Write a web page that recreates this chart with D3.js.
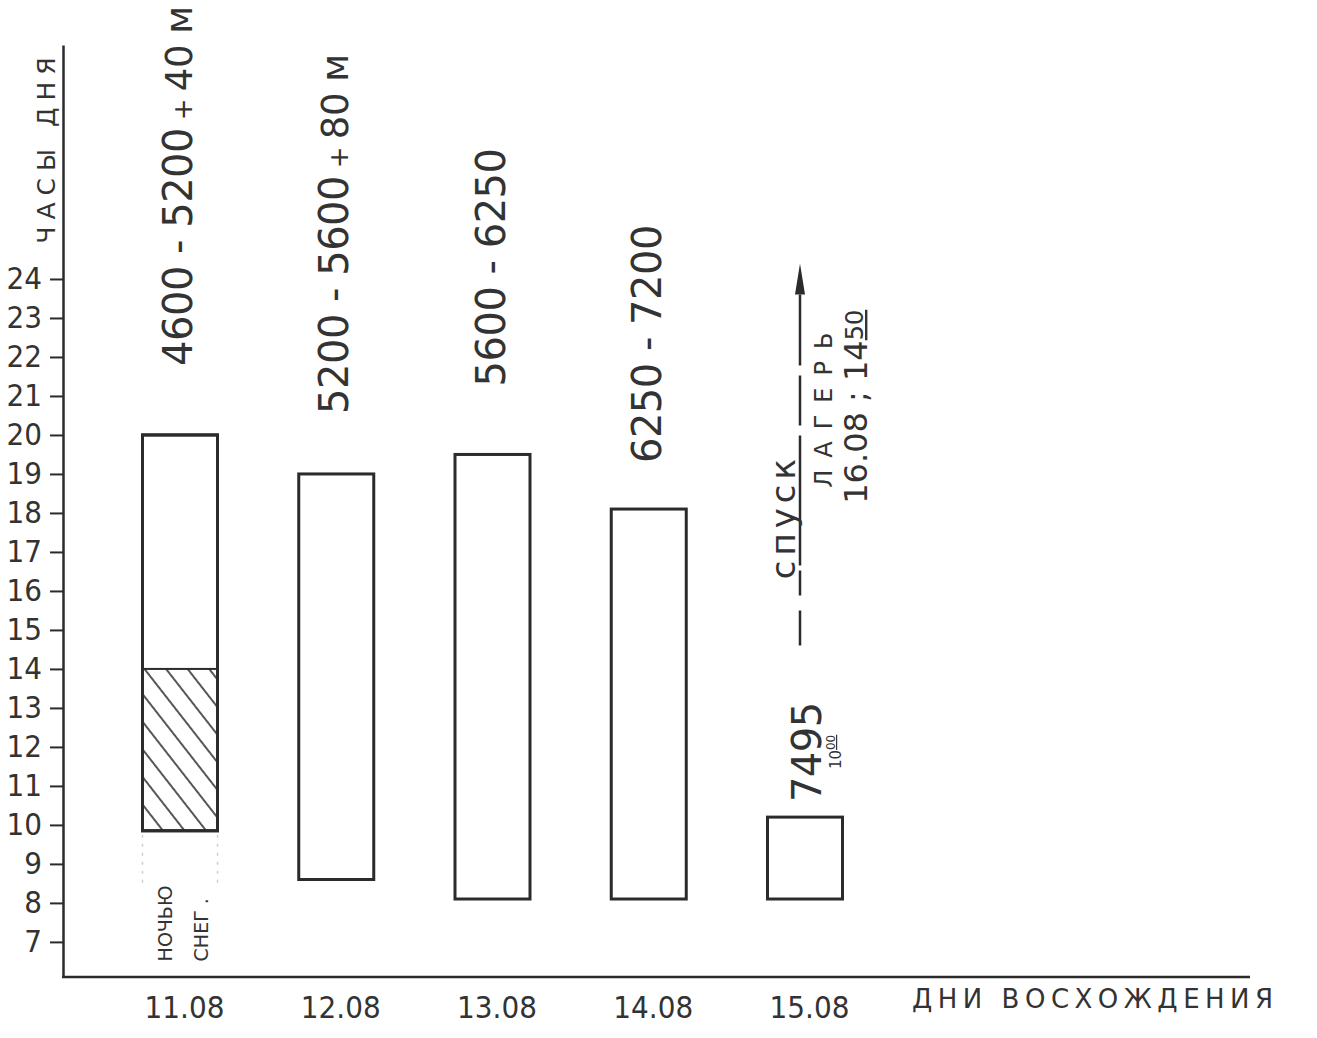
<!DOCTYPE html>
<html>
<head>
<meta charset="utf-8">
<script src="https://cdn.jsdelivr.net/npm/d3@7"></script>
<style>
  body { margin: 0; background: #fff; }
  svg { display: block; }
  text { fill: #333; font-family: 'DejaVu Sans', sans-serif; white-space: pre; }
  .narrow { font-family: 'Liberation Sans Narrow', 'DejaVu Sans Condensed', sans-serif; }
</style>
</head>
<body>
<script>
// data
const days = ['11.08', '12.08', '13.08', '14.08', '15.08']
const startHour = [9.85, 8.6, 8.1, 8.1, 8.1]
const endHour = [20, 19, 19.5, 18.1, 10.2]
const snowHours = [9.85, 14]          // hatched part of the first day
const hourTicks = d3.range(7, 25)
const heights = ['4600 - 5200', '5200 - 5600', '5600 - 6250', '6250 - 7200', '7495']
const extraMetres = ['40 м', '80 м', '', '', '']

const W = 1317, H = 1038
const ink = '#2b2b2b'
const svg = d3.select('body').append('svg').attr('width', W).attr('height', H)
svg.append('rect').attr('width', W).attr('height', H).attr('fill', '#fff')

const y = d3.scaleLinear().domain([6.1, 30]).range([977, 45])
const x = d3.scalePoint().domain(days).range([180, 805])
const barW = 75
const axisX = 63

// hatch pattern for "ночью снег"
const defs = svg.append('defs')
defs.append('pattern')
  .attr('id', 'hatch')
  .attr('patternUnits', 'userSpaceOnUse')
  .attr('width', 17).attr('height', 17)
  .attr('patternTransform', 'rotate(-38)')
  .append('line')
    .attr('x1', 8).attr('x2', 8).attr('y1', 0).attr('y2', 17)
    .attr('stroke', ink).attr('stroke-width', 1.6)

// y axis
const $yAxis = svg.append('g')
  .attr('transform', `translate(${axisX},0)`)
  .call(d3.axisLeft(y).tickValues(hourTicks).tickSize(13).tickPadding(8).tickSizeOuter(0))
$yAxis.select('.domain').attr('stroke', ink).attr('stroke-width', 2.5)
$yAxis.selectAll('.tick line').attr('stroke', ink).attr('stroke-width', 2)
$yAxis.selectAll('.tick text')
  .classed('narrow', true)
  .attr('font-size', 31)
  .attr('fill', '#333')
$yAxis.attr('font-family', null)

svg.append('text')
  .attr('transform', `translate(${axisX - 8},${y(23.7) - 47}) rotate(-90)`)
  .attr('font-size', 25)
  .attr('letter-spacing', 7)
  .text('ЧАСЫ ДНЯ')

// x axis
svg.append('line')
  .attr('x1', axisX - 1).attr('x2', 1250)
  .attr('y1', y.range()[0]).attr('y2', y.range()[0])
  .attr('stroke', ink).attr('stroke-width', 2.5)

const $xAxis = svg.append('g')
  .attr('transform', `translate(4,${y.range()[0]})`)
  .call(d3.axisBottom(x).tickSize(0).tickPadding(19))
$xAxis.select('.domain').remove()
$xAxis.selectAll('.tick text')
  .classed('narrow', true)
  .attr('font-size', 31)
  .attr('fill', '#333')
$xAxis.attr('font-family', null)

svg.append('text')
  .attr('x', 912).attr('y', 1008)
  .attr('font-size', 26)
  .attr('letter-spacing', 5.5)
  .text('ДНИ ВОСХОЖДЕНИЯ')

// bars
const $bars = svg.append('g')
$bars.selectAll('rect')
  .data(days)
  .enter().append('rect')
    .attr('x', d => x(d) - barW / 2)
    .attr('y', (d, i) => y(endHour[i]))
    .attr('width', barW)
    .attr('height', (d, i) => y(startHour[i]) - y(endHour[i]))
    .attr('fill', 'none')
    .attr('stroke', ink)
    .attr('stroke-width', 3)

// snow part of day 1
$bars.append('rect')
  .attr('x', x(days[0]) - barW / 2)
  .attr('y', y(snowHours[1]))
  .attr('width', barW)
  .attr('height', y(snowHours[0]) - y(snowHours[1]))
  .attr('fill', 'url(#hatch)')
  .attr('stroke', ink)
  .attr('stroke-width', 2)
$bars.append('rect')
  .attr('x', x(days[0]) - barW / 2)
  .attr('y', y(endHour[0]))
  .attr('width', barW)
  .attr('height', y(startHour[0]) - y(endHour[0]))
  .attr('fill', 'none')
  .attr('stroke', ink)
  .attr('stroke-width', 3)

// faint pencil lines under day 1
;[-1, 1].forEach(s => {
  svg.append('line')
    .attr('x1', x(days[0]) + s * barW / 2).attr('x2', x(days[0]) + s * barW / 2)
    .attr('y1', y(startHour[0]) + 4).attr('y2', y(8.5))
    .attr('stroke', '#cfcfcf').attr('stroke-width', 1.5)
    .attr('stroke-dasharray', '3,6')
})

const note = svg.append('text')
  .attr('transform', `translate(${x(days[0]) - 8},${y(6.5)}) rotate(-90)`)
  .attr('font-size', 19)
note.append('tspan').attr('x', 0).attr('y', 0).text('НОЧЬЮ')
note.append('tspan').attr('x', 0).attr('y', 0).attr('dy', 36).text('СНЕГ .')

// altitude labels above bars
const labelGap = [69, 60, 68, 46, 15]
const $labels = svg.append('g')
$labels.selectAll('text')
  .data(days)
  .enter().append('text')
    .attr('transform', (d, i) => `translate(${x(d) + (i == 4 ? 16 : 12)},${y(endHour[i]) - labelGap[i]}) rotate(-90)`)
    .attr('font-size', 40)
    .attr('letter-spacing', -0.5)
    .each(function(d, i) {
      const t = d3.select(this)
      t.append('tspan').text(heights[i])
      if (extraMetres[i]) {
        t.append('tspan').attr('font-size', 26).text(' + ')
        t.append('tspan').attr('font-size', 37).text(extraMetres[i])
      }
    })

// summit time 10^00
const summit = svg.append('text')
  .attr('transform', `translate(${x(days[4]) + 36},${y(endHour[4]) - 48}) rotate(-90)`)
  .attr('font-size', 15)
summit.append('tspan').text('10')
summit.append('tspan').attr('font-size', 12).attr('dy', -6).style('text-decoration', 'underline').text('00')

// descent arrow
const arrowX = x(days[4]) - 5
svg.append('line')
  .attr('x1', arrowX).attr('x2', arrowX)
  .attr('y1', y(14.6)).attr('y2', y(23.6))
  .attr('stroke', ink).attr('stroke-width', 2.5)
  .attr('stroke-dasharray', '35,15,25,5,130,10,50,10,80')
svg.append('path')
  .attr('d', d3.line()([[arrowX, y(24.4)], [arrowX - 5, y(23.6)], [arrowX + 5, y(23.6)]]) + 'Z')
  .attr('fill', ink)

svg.append('text')
  .attr('transform', `translate(${arrowX - 5},${y(16.3)}) rotate(-90)`)
  .attr('font-size', 34)
  .attr('letter-spacing', 5)
  .text('спуск')
svg.append('text')
  .attr('transform', `translate(${arrowX + 32},${y(18.8) + 6}) rotate(-90)`)
  .attr('font-size', 24)
  .attr('letter-spacing', 12)
  .text('ЛАГЕРЬ')
const camp = svg.append('text')
  .attr('transform', `translate(${arrowX + 67},${y(18.8) + 22}) rotate(-90)`)
  .attr('font-size', 32)
camp.append('tspan').text('16.08 ; 14')
camp.append('tspan').attr('font-size', 24).attr('dy', -4).style('text-decoration', 'underline').text('50')
</script>
</body>
</html>
